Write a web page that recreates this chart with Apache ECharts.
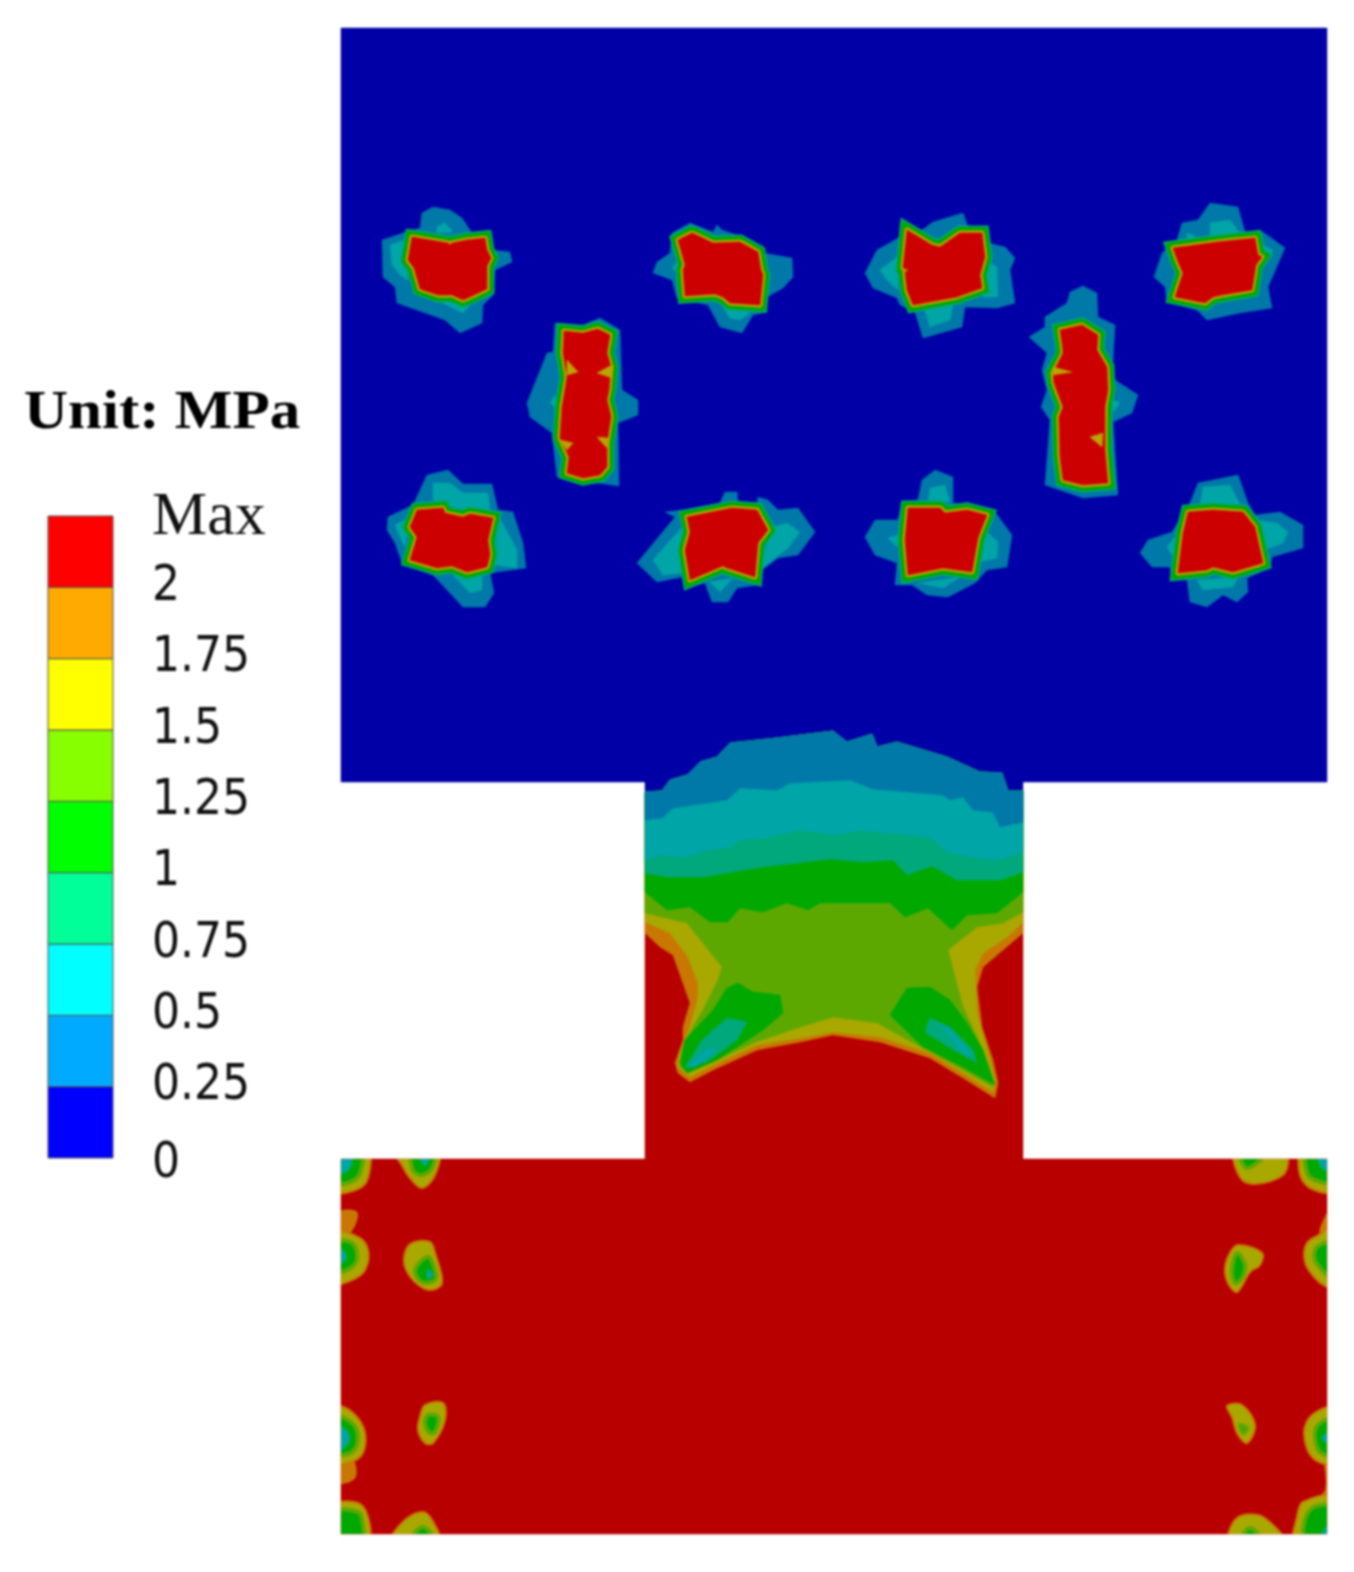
<!DOCTYPE html>
<html><head><meta charset="utf-8">
<style>html,body{margin:0;padding:0;background:#fff;overflow:hidden}#c{width:1354px;height:1572px}canvas{filter:blur(.8px)}</style>
<script src="https://cdn.jsdelivr.net/npm/echarts@6/dist/echarts.min.js"></script>
</head><body><div id="c"></div>
<script>
// Legend
const tickLabels = ['0','0.25','0.5','0.75','1','1.25','1.5','1.75','2','Max'];
const legendColors = ['#0000ff','#00aaff','#00ffff','#00ff99','#00ff00','#88ff00','#ffff00','#ffaa00','#ff0000'];
// Contour colours as shaded in the model
const shade = {zero:'#0000a6',q1:'#0078a8',q2:'#00a5a8',q3:'#00a87c',one:'#00a800',q5:'#5ca800',q6:'#a8a800',rim:'#bca400',q7:'#c87800',blockRed:'#cc0000',baseRed:'#b80000'};
// Model outline
const upperPlate=[[341,28],[1327,28],[1327,782],[341,782]];
const neckTop=[[645,780],[1023,780],[1023,800],[645,800]];
const neckPlate=[[645,800],[1023,800],[1023,1162],[645,1162]];
const lowerPlate=[[341,1159],[1327,1159],[1327,1534],[341,1534]];
// Stressed blocks: outer 0.25 band
const outerBands=[
[[422,213],[433,207],[450,210],[462,218],[472,233],[492,250],[510,252],[512,262],[495,270],[493,295],[483,305],[482,323],[460,333],[445,320],[397,303],[395,287],[383,277],[382,240],[403,233],[420,228]],
[[653,273],[657,262],[670,253],[672,233],[690,223],[713,232],[717,225],[722,230],[743,237],[763,253],[792,258],[793,277],[783,288],[767,297],[767,312],[753,315],[742,333],[720,327],[708,305],[677,298],[672,280]],
[[555,323],[583,325],[600,318],[620,330],[622,390],[638,400],[638,415],[618,423],[619,486],[557,477],[552,433],[530,417],[527,403],[547,353],[553,352]],
[[865,273],[877,250],[900,237],[900,223],[922,230],[933,222],[963,213],[968,227],[987,227],[988,243],[1005,247],[1015,258],[1010,270],[1015,303],[997,308],[965,307],[962,327],[923,338],[915,312],[900,305],[897,298],[873,288]],
[[1067,303],[1070,292],[1083,286],[1097,293],[1098,317],[1115,325],[1112,378],[1138,395],[1132,413],[1113,422],[1118,495],[1083,498],[1045,485],[1050,420],[1041,407],[1047,390],[1042,370],[1047,353],[1029,337],[1045,327],[1045,317]],
[[1154,277],[1162,253],[1177,240],[1182,223],[1198,220],[1210,203],[1238,207],[1245,232],[1263,232],[1285,248],[1268,287],[1272,308],[1240,313],[1207,320],[1197,310],[1167,302],[1165,287]],
[[387,530],[388,517],[413,505],[427,475],[448,470],[463,484],[492,484],[498,510],[513,512],[523,543],[526,568],[490,573],[494,593],[485,607],[463,607],[433,575],[402,563],[395,543]],
[[637,563],[675,517],[665,512],[682,510],[720,503],[725,492],[737,492],[738,505],[757,505],[758,497],[768,500],[778,510],[798,508],[815,532],[798,555],[778,558],[758,573],[758,585],[737,588],[728,602],[712,602],[705,583],[685,588],[682,577],[657,582]],
[[865,537],[875,520],[898,520],[902,502],[918,500],[922,480],[935,470],[953,477],[953,503],[995,512],[1012,535],[1007,567],[987,570],[975,583],[948,597],[927,595],[912,585],[895,585],[897,563],[875,555]],
[[1140,553],[1148,540],[1172,532],[1190,503],[1198,483],[1238,475],[1248,503],[1255,515],[1280,512],[1303,525],[1303,548],[1272,557],[1270,568],[1247,578],[1248,592],[1237,602],[1223,595],[1207,607],[1190,602],[1187,580],[1172,580],[1170,567],[1152,567]]
];
// Lighter 0.5 patches around the blocks
const innerBands=[
[[390,245],[405,240],[408,280],[400,275],[392,265]],[[437,227],[445,223],[453,232],[437,233]],[[420,292],[463,313],[470,305],[440,295]],
[[672,268],[677,262],[678,273]],[[720,303],[750,313],[740,320],[730,318]],
[[550,403],[555,395],[557,410]],
[[880,270],[897,257],[898,290],[887,280]],[[987,260],[997,267],[998,297],[983,297]],[[925,310],[953,305],[950,320],[930,327]],
[[1113,400],[1120,403],[1113,412]],
[[1210,223],[1230,220],[1240,233],[1210,240]],[[1187,233],[1203,240],[1187,243]],[[1263,245],[1273,250],[1262,270]],
[[433,483],[450,483],[463,493],[488,493],[490,510],[468,513],[445,505],[433,502]],[[395,525],[410,517],[405,547],[400,537]],[[498,515],[517,550],[517,568],[495,565]],[[453,575],[482,573],[482,590],[470,593]],
[[653,560],[682,527],[683,573],[663,575]],[[772,527],[787,523],[800,532],[788,548],[760,570]],[[710,582],[733,578],[720,592]],
[[930,488],[945,485],[950,502],[928,502]],[[888,538],[898,535],[897,547]],[[987,532],[998,542],[997,558],[975,563]],[[918,583],[960,577],[943,588]],
[[1203,487],[1230,485],[1242,508],[1200,505]],[[1167,547],[1178,533],[1175,560]],[[1255,520],[1277,523],[1288,532],[1283,543],[1265,550]],[[1197,580],[1238,577],[1233,587],[1203,590]]
];
// Red cores of the blocks
const blockCores=[
[[412,237],[430,240],[448,243],[450,245],[452,243],[467,240],[485,238],[487,250],[491,258],[487,266],[487,289],[470,297],[463,300],[452,295],[438,295],[420,289],[414,268],[408,260]],
[[678,240],[692,233],[703,238],[713,243],[740,242],[758,252],[761,270],[763,275],[760,305],[730,303],[723,297],[715,294],[685,296],[683,270],[685,265]],
[[564,331],[583,333],[598,329],[610,335],[607,353],[611,367],[609,390],[607,400],[610,412],[611,417],[607,443],[607,467],[600,475],[583,478],[567,473],[569,457],[560,438],[562,407],[567,377],[563,353]],
[[907,230],[932,245],[940,247],[960,233],[982,233],[985,257],[980,275],[982,288],[957,297],[913,305],[907,290],[905,272],[909,270],[903,268]],
[[1060,330],[1082,325],[1098,335],[1097,350],[1107,367],[1108,390],[1105,407],[1105,450],[1108,483],[1083,485],[1063,480],[1060,457],[1059,417],[1063,407],[1054,383],[1053,373],[1063,353],[1062,343]],
[[1173,248],[1217,242],[1255,238],[1258,255],[1262,257],[1256,265],[1252,290],[1222,295],[1213,297],[1205,303],[1175,297],[1183,273],[1178,262]],
[[417,510],[443,508],[445,513],[463,517],[470,514],[493,518],[488,540],[490,555],[487,567],[467,572],[452,566],[437,568],[410,560],[417,537],[410,527]],
[[687,517],[732,508],[757,510],[768,530],[758,543],[755,577],[727,568],[723,566],[718,568],[690,580],[685,550],[690,532]],
[[908,508],[940,508],[945,513],[967,510],[987,515],[978,538],[972,572],[943,568],[908,575],[905,540]],
[[1188,512],[1213,510],[1243,512],[1255,527],[1263,563],[1233,572],[1213,567],[1207,570],[1178,573],[1183,533]]
];
const coreNotches=[
[[567,360],[578,372],[567,375]],[[612,365],[597,373],[612,378]],[[560,440],[573,443],[567,450]],[[597,437],[608,438],[607,448]],
[[1053,367],[1072,372],[1053,375]],[[1090,437],[1103,433],[1102,447]]
];
// Neck contour lines, left to right
const neck025=[[645,792],[662,791],[670,780],[687,775],[700,762],[717,757],[730,743],[777,738],[833,731],[847,742],[872,734],[877,747],[897,742],[947,757],[980,772],[1002,773],[1008,791],[1023,791]];
const neck050=[[645,820],[662,818],[673,808],[727,800],[740,788],[777,790],[790,783],[850,780],[873,789],[943,795],[950,800],[963,797],[973,810],[993,812],[1000,827],[1023,822]];
const neck075=[[645,860],[660,855],[687,857],[707,850],[730,847],[740,840],[763,838],[800,830],[837,835],[860,830],[930,837],[947,852],[973,857],[997,860],[1023,852]];
const neck100=[[645,873],[667,877],[703,877],[763,867],[830,859],[863,862],[893,860],[907,875],[932,866],[957,880],[1000,880],[1023,872]];
const neck125=[[645,892],[667,910],[690,907],[710,922],[728,922],[740,908],[763,912],[787,903],[808,910],[820,903],[890,903],[905,917],[928,908],[952,930],[967,915],[997,913],[1023,892]];
const neck150=[[645,913],[687,923],[722,967],[718,980],[703,1010],[687,1037],[682,1050],[680,1067],[688,1073],[713,1062],[753,1043],[797,1028],[833,1017],[877,1023],[923,1048],[963,1070],[993,1087],[992,1077],[983,1050],[963,1007],[948,950],[977,927],[1003,923],[1023,912]];
const neck175=[[645,922],[670,933],[688,957],[698,983],[698,997],[690,1027],[680,1053],[678,1067],[690,1077],[713,1065],[757,1045],[800,1038],[833,1032],[880,1037],[930,1053],[963,1073],[993,1092],[995,1080],[988,1053],[977,1013],[975,970],[983,953],[1007,937],[1023,922]];
const neck200=[[645,933],[660,947],[673,955],[683,983],[690,1003],[683,1027],[683,1040],[675,1063],[678,1073],[690,1082],[713,1070],[757,1050],[800,1042],[833,1035],[880,1042],[930,1058],[963,1078],[995,1098],[998,1083],[993,1060],[982,1027],[977,987],[983,967],[1003,950],[1023,933]];
const lobeGreen=[
[[685,1040],[713,1010],[727,988],[738,983],[753,992],[780,995],[783,1013],[763,1030],[717,1060],[687,1073],[680,1063]],
[[890,1015],[907,988],[930,987],[950,1000],[967,1023],[983,1050],[995,1085],[963,1067],[923,1047]]
];
const lobeTeal=[
[[685,1068],[702,1040],[727,1018],[747,1022],[737,1040],[707,1062]],
[[925,1032],[930,1018],[950,1027],[973,1050],[977,1063],[950,1048]]
];
const lobeCyan=[
[[688,1067],[707,1048],[717,1050],[695,1067]],
[[940,1025],[950,1030],[972,1055],[965,1055]]
];
// Spots in the lower plate
const spotOrange=[
[[335,1213],[357,1212],[350,1233],[335,1233]],[[335,1460],[352,1458],[355,1478],[335,1483]],
[[1335,1205],[1326,1215],[1320,1235],[1335,1240]],[[1335,1455],[1325,1455],[1325,1490],[1310,1505],[1335,1505]]
];
const spotYellow=[
[[335,1150],[368,1150],[368,1178],[358,1189],[335,1191]],
[[395,1150],[438,1150],[435,1175],[422,1188],[410,1178],[403,1167]],
[[335,1233],[358,1237],[368,1250],[365,1270],[352,1280],[335,1283]],
[[412,1243],[430,1242],[435,1253],[442,1283],[430,1290],[415,1282],[405,1267],[405,1253]],
[[425,1405],[443,1403],[445,1420],[433,1443],[425,1443],[418,1430],[420,1417]],
[[335,1407],[352,1412],[365,1433],[360,1457],[335,1462]],
[[335,1505],[358,1503],[368,1517],[368,1540],[335,1540]],
[[393,1538],[405,1520],[423,1512],[432,1520],[438,1538]],
[[1235,1150],[1285,1150],[1283,1175],[1245,1182]],
[[1302,1150],[1335,1150],[1335,1191],[1312,1189],[1300,1175]],
[[1238,1245],[1262,1253],[1260,1265],[1250,1272],[1237,1292],[1228,1283],[1225,1268],[1230,1253]],
[[1335,1222],[1322,1233],[1307,1243],[1305,1262],[1315,1278],[1327,1287],[1335,1288]],
[[1227,1406],[1242,1405],[1255,1425],[1247,1443],[1237,1433],[1232,1417]],
[[1335,1408],[1312,1415],[1304,1433],[1313,1458],[1335,1463]],
[[1335,1497],[1303,1502],[1297,1517],[1295,1540],[1335,1540]],
[[1230,1538],[1237,1518],[1258,1515],[1273,1525],[1282,1538]]
];
const spotGreen=[
[[335,1150],[361,1150],[360,1173],[350,1182],[335,1182]],
[[412,1150],[434,1150],[432,1168],[422,1175],[413,1170]],
[[335,1243],[352,1243],[357,1257],[352,1267],[335,1272]],
[[428,1257],[435,1270],[435,1280],[422,1282],[415,1270]],
[[428,1415],[438,1417],[435,1432],[430,1433],[425,1423]],
[[335,1417],[352,1423],[358,1437],[352,1452],[335,1453]],
[[335,1512],[358,1512],[362,1520],[362,1540],[335,1540]],
[[412,1538],[423,1527],[433,1538]],
[[1240,1150],[1268,1150],[1247,1168]],
[[1307,1150],[1335,1150],[1335,1182],[1315,1180],[1307,1172]],
[[1237,1253],[1245,1265],[1242,1278],[1235,1283],[1232,1270]],
[[1335,1243],[1317,1247],[1315,1260],[1327,1275],[1335,1280]],
[[1240,1425],[1247,1428],[1243,1433]],
[[1335,1418],[1318,1425],[1315,1437],[1320,1452],[1335,1455]],
[[1335,1507],[1310,1510],[1305,1540],[1335,1540]],
[[1242,1538],[1250,1528],[1260,1538]]
];
const spotTeal=[
[[335,1150],[352,1150],[348,1170],[335,1172]],
[[418,1150],[430,1150],[425,1165]],
[[335,1247],[345,1253],[345,1260],[335,1263]],
[[428,1270],[433,1275],[428,1278]],
[[335,1425],[348,1433],[348,1443],[335,1452]],
[[1317,1150],[1335,1150],[1335,1172],[1322,1167]],
[[1335,1432],[1322,1438],[1335,1445]],
[[1335,1518],[1320,1540],[1335,1540]]
];

const topClose=neck025.slice().reverse();
function layer(polys,fill,opt){
  opt=opt||{};
  return {type:'custom',xAxisIndex:opt.axis||0,yAxisIndex:opt.axis||0,silent:true,animation:false,clip:!!opt.clip,
    data:polys.map((p,i)=>[i,i]),
    renderItem:(params,api)=>{
      const pts=polys[params.dataIndex].map(q=>api.coord(q));
      return {type:'polygon',shape:{points:pts,smooth:opt.smooth||0},
        style:{fill:fill,stroke:opt.stroke||fill,lineWidth:opt.lw===undefined?0.5:opt.lw,lineJoin:opt.join||'miter',miterLimit:3}};
    }};
}
const spotOpt={axis:2,clip:true,smooth:0.35};
const series=[
  layer([upperPlate,neckTop],shade.zero),
  layer([lowerPlate],shade.baseRed),
  layer([neckPlate],shade.baseRed),
  layer([neck200.concat(topClose)],shade.q7),
  layer([neck175.concat(topClose)],shade.q6),
  layer([neck150.concat(topClose)],shade.q5),
  layer(lobeGreen,shade.one),
  layer(lobeTeal,shade.q3),
  layer(lobeCyan,shade.q2),
  layer([neck125.concat(topClose)],shade.one),
  layer([neck100.concat(topClose)],shade.q3),
  layer([neck075.concat(topClose)],shade.q2),
  layer([neck050.concat(topClose)],shade.q1),
  layer(outerBands,shade.q1),
  layer(innerBands,shade.q2),
  layer(blockCores,shade.q3,{lw:15}),
  layer(blockCores,shade.one,{lw:12}),
  layer(blockCores,shade.rim,{lw:5,join:'round'}),
  layer(blockCores,shade.blockRed,{lw:0.5}),
  layer(coreNotches,shade.rim),
  layer(spotOrange,shade.q7,spotOpt),
  layer(spotYellow,shade.q6,Object.assign({stroke:shade.q7,lw:2},spotOpt)),
  layer(spotGreen,shade.one,Object.assign({stroke:shade.q5,lw:4},spotOpt)),
  layer(spotTeal,shade.q2,Object.assign({stroke:shade.q3,lw:2},spotOpt)),
  {type:'custom',xAxisIndex:1,yAxisIndex:1,silent:true,animation:false,
    data:legendColors.map((c,i)=>[0,i]),
    renderItem:(params,api)=>{
      const i=params.dataIndex,a=api.coord([0,i+1]),b=api.coord([1,i]);
      return {type:'rect',shape:{x:a[0],y:a[1],width:b[0]-a[0],height:b[1]-a[1]},
        style:{fill:legendColors[i],stroke:'#555',lineWidth:1}};
    }}
];
const hiddenX=(min,max,i)=>({type:'value',gridIndex:i,min,max,show:false});
const hiddenY=(min,max,i)=>({type:'value',gridIndex:i,min,max,inverse:true,show:false});
const chart=echarts.init(document.getElementById('c'),null,{renderer:'canvas'});
chart.setOption({
  backgroundColor:'#fff',
  grid:[
    {left:0,top:0,width:1354,height:1572},
    {left:48,top:516,width:65,height:642},
    {left:341,top:1159,width:986,height:375}
  ],
  xAxis:[hiddenX(0,1354,0),hiddenX(0,1,1),hiddenX(341,1327,2)],
  yAxis:[hiddenY(0,1572,0),
    {type:'value',gridIndex:1,min:0,max:9,interval:1,position:'right',
     axisLine:{show:false},axisTick:{show:false},splitLine:{show:false},
     axisLabel:{show:true,margin:39,color:'#111',fontSize:49,fontFamily:'"DejaVu Sans Condensed","DejaVu Sans"',
       formatter:(v)=>{const t=tickLabels[Math.round(v)];return t==='Max'?'{max|Max}':(t==='0'?'{zero|0}':t);},
       rich:{max:{fontFamily:'"Liberation Serif"',fontSize:62,color:'#111',padding:[4,0,0,0]},
             zero:{fontFamily:'"DejaVu Sans Condensed","DejaVu Sans"',fontSize:49,color:'#111',padding:[12,0,0,0]}}}},
    hiddenY(1159,1534,2)],
  graphic:[{type:'text',x:24,y:414,scaleY:0.9,silent:true,
    style:{text:'Unit: MPa',font:'bold 61px "Liberation Serif"',fill:'#000',verticalAlign:'middle'}}],
  series
});
</script></body></html>
